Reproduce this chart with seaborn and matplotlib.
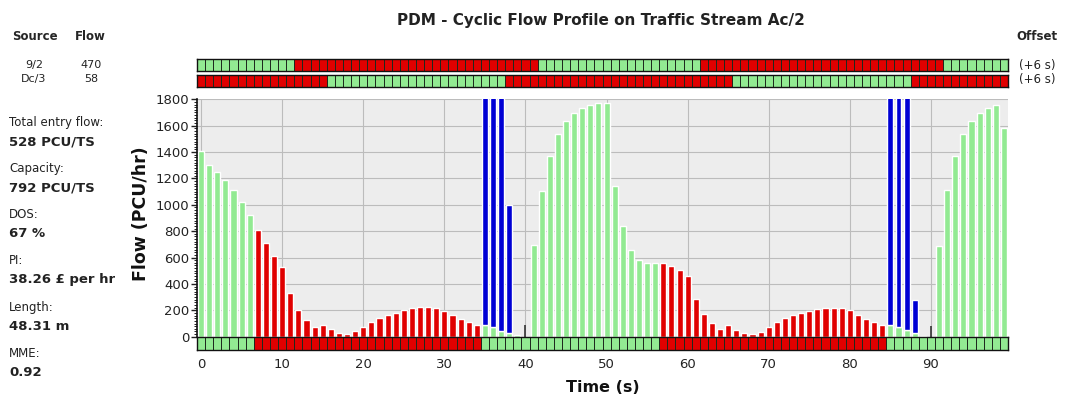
import numpy as np
import pandas as pd
import matplotlib
matplotlib.use('Agg')
import matplotlib.pyplot as plt
from matplotlib.colors import ListedColormap
from matplotlib.ticker import MultipleLocator
import seaborn as sns

# one bar per second of the profile
seconds = list(range(100))
flow = [1405, 1305, 1245, 1185, 1115, 1025, 925,
        810, 710, 615, 530, 330, 205, 125, 75, 90, 55, 30, 20, 40,
        76, 109, 140, 165, 183, 203, 216, 224, 224, 216, 198, 165, 132, 109, 92,
        90, 70, 45, 25, 12, 0,
        697, 1103, 1369, 1534, 1635, 1699, 1737, 1754, 1775, 1770, 1141, 837, 659, 578, 558, 558,
        558, 538, 507, 462, 284, 173, 107, 61, 87, 51, 26, 17, 36,
        76, 109, 140, 165, 183, 198, 209, 216, 221, 216, 203, 165, 132, 114, 92,
        89, 76, 51, 26, 6, 0,
        690, 1110, 1369, 1534, 1635, 1699, 1737, 1760, 1580]

# queue discharge (blue) sits on top of the green bars
queue_secs = [35, 36, 37, 38, 85, 86, 87, 88]
queue_top = [1850, 1850, 1850, 1000, 1850, 1850, 1850, 280]

# small dark markers
marker_secs = [40, 90]
marker_flow = [89, 81]

# green periods (first and last second, inclusive)
stream_green = [(0, 6), (35, 56), (85, 99)]
source_green = [[(0, 11), (42, 61), (92, 99)],
                [(16, 37), (66, 87)]]

sources = ['9/2', 'Dc/3']
source_flows = [470, 58]
offsets = ['(+6 s)', '(+6 s)']

info_labels = ['Total entry flow:', 'Capacity:', 'DOS:', 'PI:', 'Length:', 'MME:']
info_values = ['528 PCU/TS', '792 PCU/TS', '67 %', '38.26 £ per hr', '48.31 m', '0.92']

GREEN = '#92ea92'
RED = '#e00000'
BLUE = '#0000d4'
W, H = 1065, 401


def phase_row(periods):
    row = np.zeros(len(seconds))
    for a, b in periods:
        row[a:b + 1] = 1
    return row


def px(x, y):
    return x / W, 1 - y / H


def draw_strip(ax, periods):
    sns.heatmap(phase_row(periods)[None, :], ax=ax, cmap=ListedColormap([RED, GREEN]),
                vmin=0, vmax=1, cbar=False, linewidths=0.45, linecolor='#1e2a1e',
                xticklabels=False, yticklabels=False)
    for sp in ax.spines.values():
        sp.set_visible(True)
        sp.set_color('#111111')
        sp.set_linewidth(1)


sns.set_style('white')
plt.rcParams['font.family'] = ['DejaVu Sans']

fig = plt.figure(figsize=(W / 100, H / 100), dpi=100)

ax = fig.add_axes([197 / W, (H - 336.7) / H, 811 / W, 237.4 / H])
strip = fig.add_axes([197 / W, (H - 349.5) / H, 811 / W, 12.5 / H])
top1 = fig.add_axes([197 / W, (H - 70.7) / H, 811 / W, 11.4 / H])
top2 = fig.add_axes([197 / W, (H - 87.3) / H, 811 / W, 12.3 / H])

stream_row = phase_row(stream_green)
df = pd.DataFrame({'second': seconds, 'flow': flow,
                   'phase': ['green' if g else 'red' for g in stream_row]})

ax.set_facecolor('#ededed')
sns.barplot(data=df, x='second', y='flow', hue='phase', native_scale=True,
            palette={'green': GREEN, 'red': RED}, dodge=False, width=0.75,
            saturation=1, errorbar=None, legend=False, ax=ax, zorder=2)

base = [flow[s] for s in queue_secs]
ax.bar(queue_secs, [t - b for t, b in zip(queue_top, base)], bottom=base,
       width=0.72, color=BLUE, zorder=3)
ax.vlines(marker_secs, 0, marker_flow, colors='#333333', lw=1.2, zorder=3)

ax.set_xlim(-0.5, 99.5)
ax.set_ylim(0, 1800)
ax.set_xticks(range(0, 100, 10))
ax.set_yticks(range(0, 1801, 200))
ax.yaxis.set_minor_locator(MultipleLocator(20))
ax.grid(True, which='major', color='#bcbcbc', lw=0.8, zorder=0)
ax.set_axisbelow(True)
ax.tick_params(axis='x', bottom=False, labelbottom=False)
ax.tick_params(axis='y', which='major', left=True, length=4, width=1, pad=1.5,
               labelsize=9.5, colors='#222222')
ax.tick_params(axis='y', which='minor', left=True, length=2.5, width=0.7, colors='#222222')
for side in ['top', 'right', 'bottom']:
    ax.spines[side].set_visible(False)
ax.spines['left'].set_color('#111111')
ax.spines['left'].set_linewidth(1.2)
ax.set_xlabel('')
ax.set_ylabel('')

draw_strip(strip, stream_green)
strip.set_xticks([t + 0.5 for t in range(0, 100, 10)])
strip.set_xticklabels([str(t) for t in range(0, 100, 10)], rotation=0)
strip.tick_params(axis='x', bottom=False, labelbottom=True, pad=2.5,
                  labelsize=9.5, colors='#222222')

draw_strip(top1, source_green[0])
draw_strip(top2, source_green[1])

# texts around the chart
fig.text(*px(601, 20), 'PDM - Cyclic Flow Profile on Traffic Stream Ac/2',
         ha='center', va='center', fontsize=11, fontweight='bold', color='#222222')
fig.text(*px(141, 214), 'Flow (PCU/hr)', rotation=90, ha='center', va='center',
         fontsize=12.5, fontweight='bold', color='#111111')
fig.text(*px(603, 388), 'Time (s)', ha='center', va='center',
         fontsize=11.5, fontweight='bold', color='#111111')

fig.text(*px(12, 37), 'Source', ha='left', va='center', fontsize=8.5, fontweight='bold')
fig.text(*px(75, 37), 'Flow', ha='left', va='center', fontsize=8.5, fontweight='bold')
fig.text(*px(1037, 37), 'Offset', ha='center', va='center', fontsize=8.5, fontweight='bold')
for i, (src, fl, off) in enumerate(zip(sources, source_flows, offsets)):
    y = 65 + 14 * i
    fig.text(*px(34, y), src, ha='center', va='center', fontsize=8, color='#222222')
    fig.text(*px(91, y), str(fl), ha='center', va='center', fontsize=8, color='#222222')
    fig.text(*px(1037, y), off, ha='center', va='center', fontsize=8.5, color='#222222')

for i, (lab, val) in enumerate(zip(info_labels, info_values)):
    y = 122.7 + 46.1 * i
    fig.text(*px(9, y), lab, ha='left', va='center', fontsize=8.5, color='#222222')
    fig.text(*px(9, y + 19), val, ha='left', va='center', fontsize=9.5,
             fontweight='bold', color='#222222')

fig.savefig('out.png', dpi=100, facecolor='white')
